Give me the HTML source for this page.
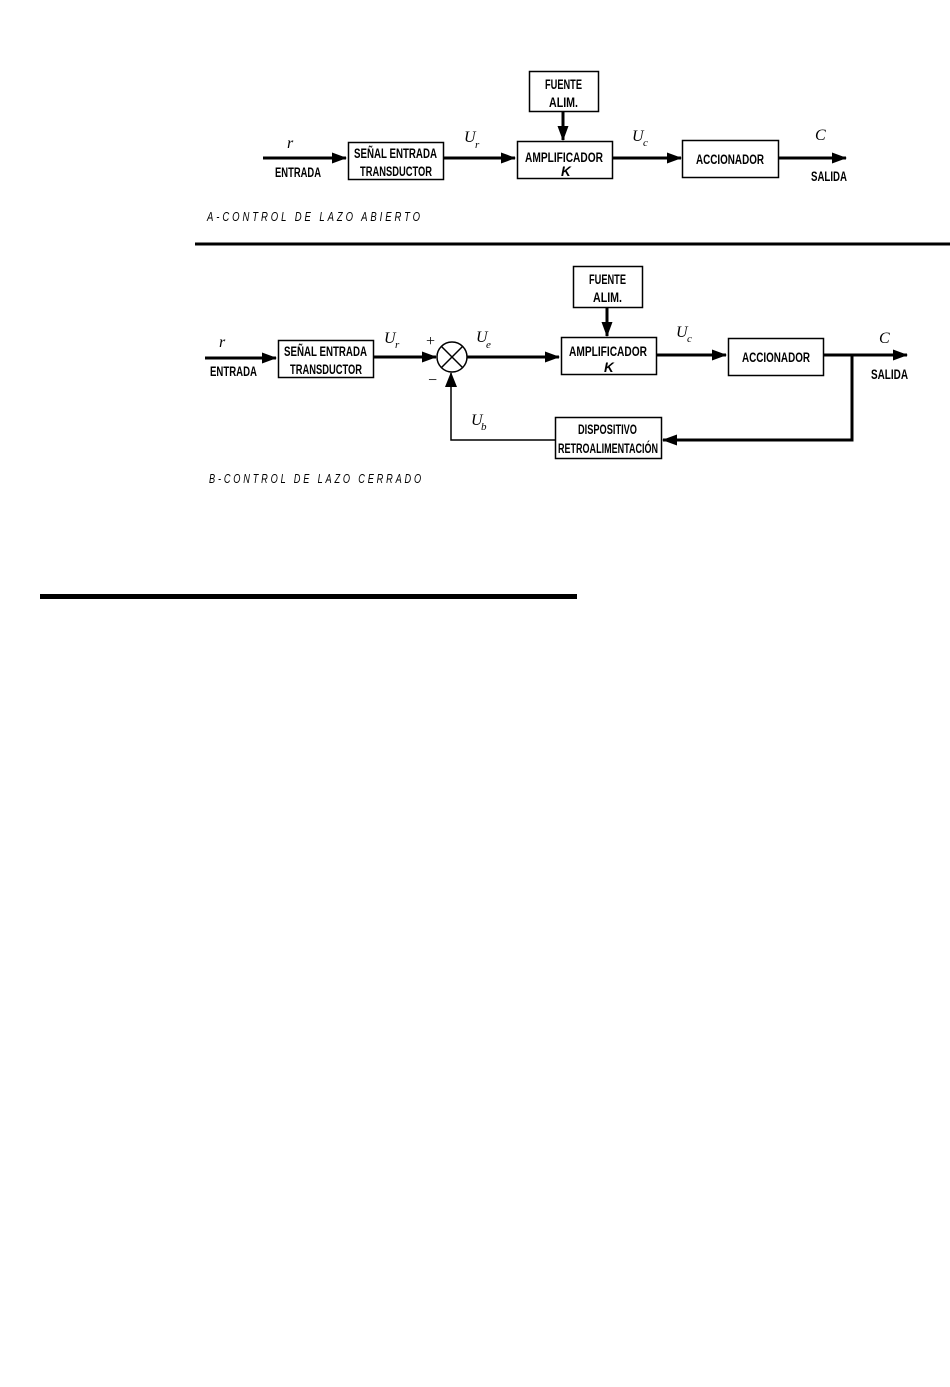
<!DOCTYPE html>
<html><head><meta charset="utf-8">
<style>
html,body{margin:0;padding:0;background:#fff;}
svg{display:block;}
.b{font-family:"Liberation Sans",sans-serif;font-weight:bold;font-size:13.5px;fill:#000;}
.i{font-family:"Liberation Serif",serif;font-style:italic;font-size:16px;fill:#000;}
.s{font-family:"Liberation Serif",serif;font-style:italic;font-size:11px;fill:#000;}
.cap{font-family:"Liberation Sans",sans-serif;font-style:italic;font-size:13px;fill:#000;letter-spacing:4px;}
</style></head><body>
<svg width="950" height="1387" viewBox="0 0 950 1387" xmlns="http://www.w3.org/2000/svg">
<defs>
<marker id="ah" markerWidth="15" markerHeight="11" refX="14" refY="5.5" orient="auto" markerUnits="userSpaceOnUse">
<path d="M0,0 L15,5.5 L0,11 Z" fill="#000"/></marker>
</defs>
<g stroke="#000" fill="none">
<rect x="348.5" y="142.5" width="95" height="37" stroke-width="1.5"/>
<rect x="517.5" y="141.5" width="95" height="37" stroke-width="1.5"/>
<rect x="529.5" y="71.5" width="69" height="40" stroke-width="1.5"/>
<rect x="682.5" y="140.5" width="96" height="37" stroke-width="1.5"/>
<line x1="263" y1="158" x2="346" y2="158" stroke-width="3" marker-end="url(#ah)"/>
<line x1="443" y1="158" x2="515" y2="158" stroke-width="3" marker-end="url(#ah)"/>
<line x1="563" y1="111" x2="563" y2="140" stroke-width="3" marker-end="url(#ah)"/>
<line x1="612" y1="158" x2="681" y2="158" stroke-width="3" marker-end="url(#ah)"/>
<line x1="778" y1="158" x2="846" y2="158" stroke-width="3" marker-end="url(#ah)"/>
<line x1="195" y1="244" x2="950" y2="244" stroke-width="3"/>
<rect x="278.5" y="340.5" width="95" height="37" stroke-width="1.5"/>
<rect x="561.5" y="337.5" width="95" height="37" stroke-width="1.5"/>
<rect x="573.5" y="266.5" width="69" height="41" stroke-width="1.5"/>
<rect x="728.5" y="338.5" width="95" height="37" stroke-width="1.5"/>
<rect x="555.5" y="417.5" width="106" height="41" stroke-width="1.5"/>
<circle cx="452" cy="357" r="15" stroke-width="1.5"/>
<line x1="441" y1="346" x2="463" y2="368" stroke-width="1.5"/>
<line x1="463" y1="346" x2="441" y2="368" stroke-width="1.5"/>
<line x1="205" y1="358" x2="276" y2="358" stroke-width="3" marker-end="url(#ah)"/>
<line x1="373" y1="357" x2="436" y2="357" stroke-width="3" marker-end="url(#ah)"/>
<line x1="467" y1="357" x2="559" y2="357" stroke-width="3" marker-end="url(#ah)"/>
<line x1="607" y1="307" x2="607" y2="336" stroke-width="3" marker-end="url(#ah)"/>
<line x1="656" y1="355" x2="726" y2="355" stroke-width="3" marker-end="url(#ah)"/>
<line x1="823" y1="355" x2="907" y2="355" stroke-width="3" marker-end="url(#ah)"/>
<polyline points="852,355 852,440 663,440" stroke-width="3" marker-end="url(#ah)"/>
<polyline points="555,440 451,440 451,373" stroke-width="1.5"/>
<path d="M445,387 L451,372 L457,387 Z" fill="#000" stroke="none"/>
<line x1="40" y1="596.5" x2="577" y2="596.5" stroke-width="5"/>
</g>
<text class="i" x="287" y="148">r</text>
<text class="b" x="275" y="177" textLength="46" lengthAdjust="spacingAndGlyphs">ENTRADA</text>
<text class="b" x="354" y="158" textLength="83" lengthAdjust="spacingAndGlyphs">SEÑAL ENTRADA</text>
<text class="b" x="360" y="176" textLength="72" lengthAdjust="spacingAndGlyphs">TRANSDUCTOR</text>
<text class="i" x="464" y="142">U</text><text class="s" x="475" y="148">r</text>
<text class="b" x="545" y="89" textLength="37" lengthAdjust="spacingAndGlyphs">FUENTE</text>
<text class="b" x="549" y="107" textLength="29" lengthAdjust="spacingAndGlyphs">ALIM.</text>
<text class="b" x="525" y="162" textLength="78" lengthAdjust="spacingAndGlyphs">AMPLIFICADOR</text>
<text class="b" x="561" y="176" font-style="italic">K</text>
<text class="i" x="632" y="141">U</text><text class="s" x="643" y="146">c</text>
<text class="b" x="696" y="164" textLength="68" lengthAdjust="spacingAndGlyphs">ACCIONADOR</text>
<text class="i" x="815" y="140">C</text>
<text class="b" x="811" y="181" textLength="36" lengthAdjust="spacingAndGlyphs">SALIDA</text>
<text class="cap" x="207" y="221" textLength="216" lengthAdjust="spacingAndGlyphs">A-CONTROL DE LAZO ABIERTO</text>
<text class="i" x="219" y="347">r</text>
<text class="b" x="210" y="376" textLength="47" lengthAdjust="spacingAndGlyphs">ENTRADA</text>
<text class="b" x="284" y="356" textLength="83" lengthAdjust="spacingAndGlyphs">SEÑAL ENTRADA</text>
<text class="b" x="290" y="374" textLength="72" lengthAdjust="spacingAndGlyphs">TRANSDUCTOR</text>
<text class="i" x="384" y="343">U</text><text class="s" x="395" y="348">r</text>
<text class="i" x="425" y="346" font-size="15">+</text>
<text class="i" x="427" y="385" font-size="15">−</text>
<text class="i" x="476" y="342">U</text><text class="s" x="486" y="348">e</text>
<text class="i" x="471" y="425">U</text><text class="s" x="481" y="430">b</text>
<text class="b" x="589" y="284" textLength="37" lengthAdjust="spacingAndGlyphs">FUENTE</text>
<text class="b" x="593" y="302" textLength="29" lengthAdjust="spacingAndGlyphs">ALIM.</text>
<text class="b" x="569" y="356" textLength="78" lengthAdjust="spacingAndGlyphs">AMPLIFICADOR</text>
<text class="b" x="604" y="372" font-style="italic">K</text>
<text class="i" x="676" y="337">U</text><text class="s" x="687" y="342">c</text>
<text class="b" x="742" y="362" textLength="68" lengthAdjust="spacingAndGlyphs">ACCIONADOR</text>
<text class="i" x="879" y="343">C</text>
<text class="b" x="871" y="379" textLength="37" lengthAdjust="spacingAndGlyphs">SALIDA</text>
<text class="b" x="578" y="434" textLength="59" lengthAdjust="spacingAndGlyphs">DISPOSITIVO</text>
<text class="b" x="558" y="453" textLength="100" lengthAdjust="spacingAndGlyphs">RETROALIMENTACIÓN</text>
<text class="cap" x="209" y="483" textLength="215" lengthAdjust="spacingAndGlyphs">B-CONTROL DE LAZO CERRADO</text>
</svg>
</body></html>
